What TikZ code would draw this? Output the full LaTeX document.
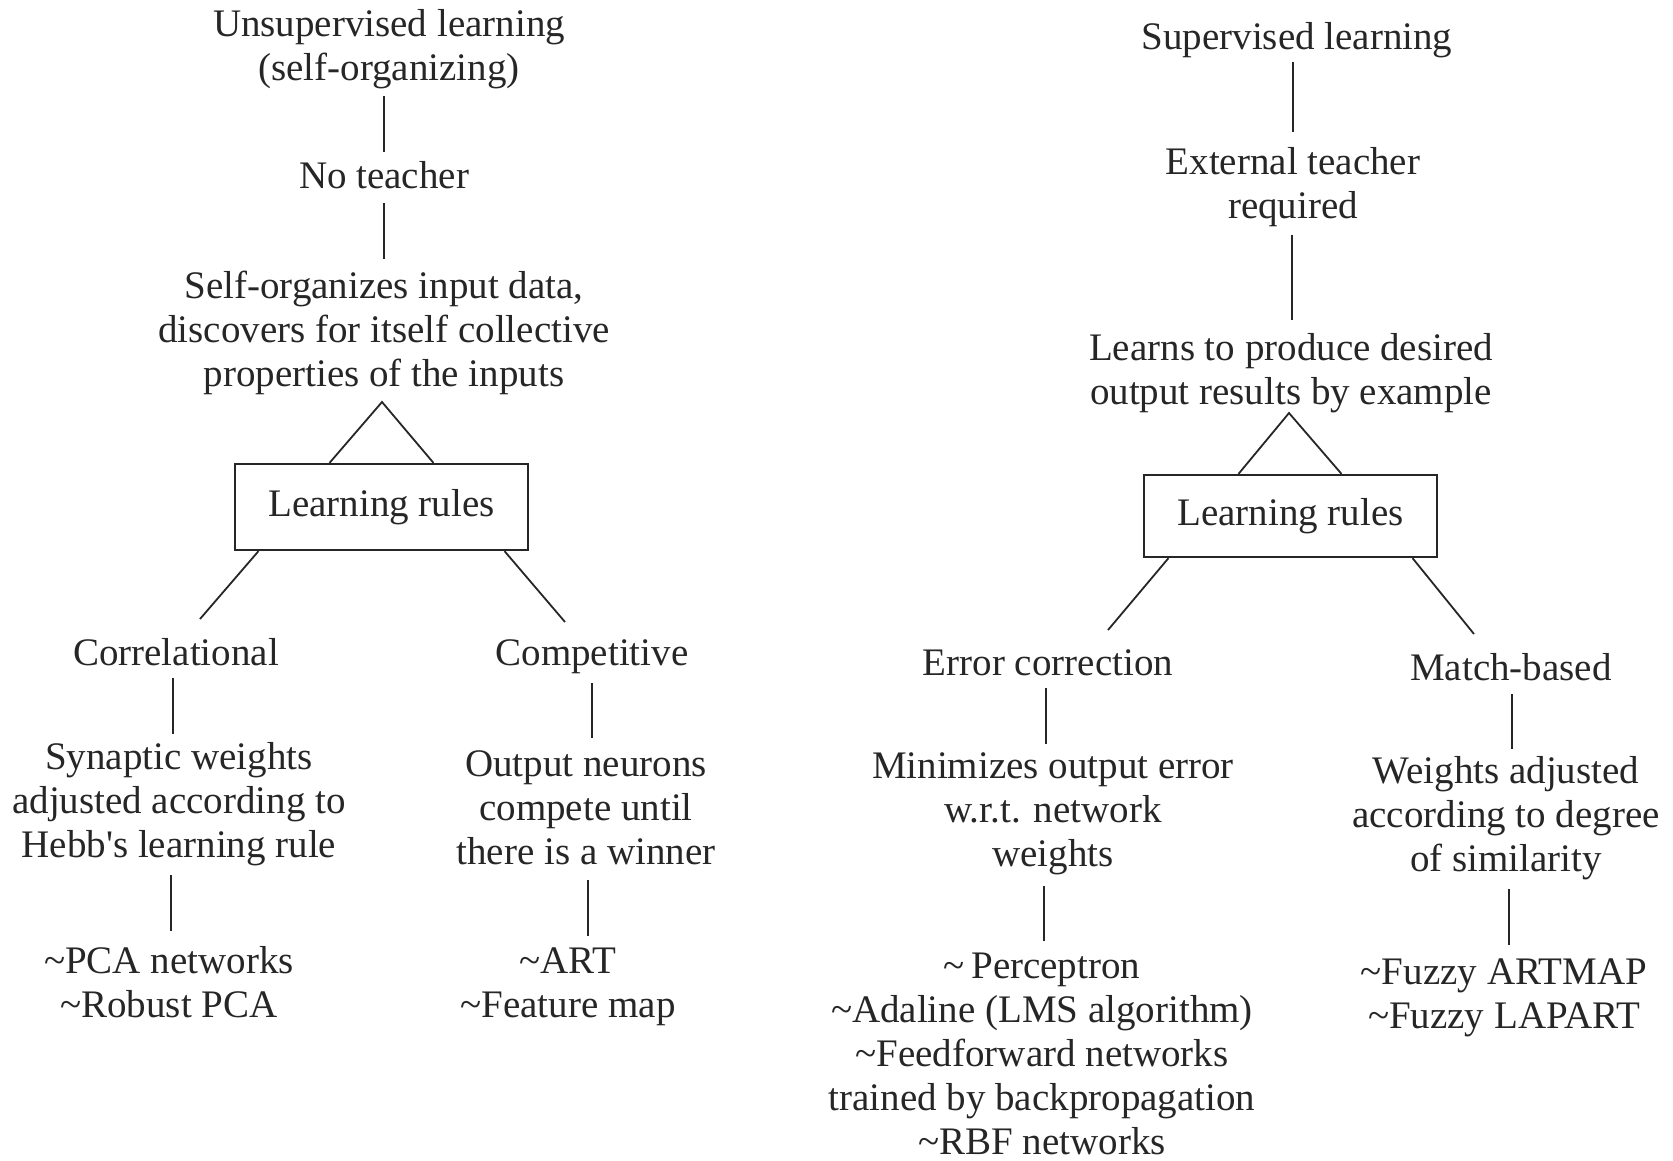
\documentclass[tikz,border=0pt]{standalone}
\usepackage{fontspec}
\setmainfont{Liberation Serif}
\definecolor{ink}{HTML}{262626}
\tikzset{
  txt/.style={align=center, inner sep=0pt, text=ink, font=\fontsize{39}{44}\selectfont},
  rulebox/.style={draw=ink, line width=2.2pt, minimum width=293pt, inner sep=0pt, text=ink, font=\fontsize{39}{44}\selectfont},
  conn/.style={draw=ink, line width=1.8pt}
}
\newcommand{\tl}{\textasciitilde}
\begin{document}
\begin{tikzpicture}[x=1pt,y=1pt]
\useasboundingbox (0,0) rectangle (1673,-1160);
% ---------- left tree ----------
\node[txt] (uns) at (389,-49) {Unsupervised learning\\(self-organizing)};
\node[txt] (noT) at (384,-175) {No teacher};
\node[txt] (self) at (384,-333) {Self-organizes input data,\\discovers for itself collective\\properties of the inputs};
\node[rulebox, minimum height=86pt] (lrL) at (381.5,-507) {Learning rules};
\node[txt] (corr) at (176,-652) {Correlational};
\node[txt] (syn) at (179,-804) {Synaptic weights\\adjusted according to\\Hebb\textquotesingle s learning rule};
\node[txt] (pca) at (169,-982) {\tl PCA networks\\\tl Robust PCA};
\node[txt] (comp) at (592,-657) {Competitive};
\node[txt] (outn) at (586,-808) {Output neurons\\compete until\\there is a winner};
\node[txt] (art) at (568,-987) {\tl ART\\\tl Feature map};

\coordinate (a1) at (384,-96);  \coordinate (a2) at (384,-152);
\coordinate (b1) at (384,-203); \coordinate (b2) at (384,-259);
\coordinate (apL) at (382,-402);
\coordinate (c1) at (200,-619);
\coordinate (d1) at (565,-622);
\coordinate (e1) at (173,-678); \coordinate (e2) at (173,-734);
\coordinate (f1) at (171,-875); \coordinate (f2) at (171,-931);
\coordinate (g1) at (592,-683); \coordinate (g2) at (592,-738);
\coordinate (h1) at (588,-880); \coordinate (h2) at (588,-936);

\draw[conn] (a1) -- (a2);
\draw[conn] (b1) -- (b2);
\draw[conn] ([xshift=-52pt]lrL.north) -- (apL) -- ([xshift=52pt]lrL.north);
\draw[conn] ([xshift=-123pt]lrL.south) -- (c1);
\draw[conn] ([xshift=123pt]lrL.south) -- (d1);
\draw[conn] (e1) -- (e2);
\draw[conn] (f1) -- (f2);
\draw[conn] (g1) -- (g2);
\draw[conn] (h1) -- (h2);

% ---------- right tree ----------
\node[txt] (sup) at (1297,-40) {Supervised learning};
\node[txt] (ext) at (1293,-187) {External teacher\\required};
\node[txt] (lea) at (1291,-373) {Learns to produce desired\\output results by example};
\node[rulebox, minimum height=82pt] (lrR) at (1290.5,-516) {Learning rules};
\node[txt] (err) at (1048,-663) {Error correction};
\node[txt] (mini) at (1053,-814) {Minimizes output error\\w.r.t. network\\weights};
\node[txt] (perc) at (1042,-1054) {\tl\,Perceptron\\\tl Adaline (LMS algorithm)\\\tl Feedforward networks\\trained by backpropagation\\\tl RBF networks};
\node[txt] (mat) at (1511,-667) {Match-based};
\node[txt] (wadj) at (1506,-818) {Weights adjusted\\according to degree\\of similarity};
\node[txt] (fuz) at (1504,-998) {\tl Fuzzy ARTMAP\\\tl Fuzzy LAPART};

\coordinate (i1) at (1293,-62);  \coordinate (i2) at (1293,-132);
\coordinate (j1) at (1292,-235); \coordinate (j2) at (1292,-320);
\coordinate (apR) at (1289,-413);
\coordinate (k1) at (1108,-630);
\coordinate (l1) at (1474,-634);
\coordinate (m1) at (1046,-688); \coordinate (m2) at (1046,-744);
\coordinate (n1) at (1044,-886); \coordinate (n2) at (1044,-941);
\coordinate (o1) at (1512,-694); \coordinate (o2) at (1512,-749);
\coordinate (p1) at (1509,-889); \coordinate (p2) at (1509,-945);

\draw[conn] (i1) -- (i2);
\draw[conn] (j1) -- (j2);
\draw[conn] ([xshift=-52pt]lrR.north) -- (apR) -- ([xshift=51pt]lrR.north);
\draw[conn] ([xshift=-122pt]lrR.south) -- (k1);
\draw[conn] ([xshift=122pt]lrR.south) -- (l1);
\draw[conn] (m1) -- (m2);
\draw[conn] (n1) -- (n2);
\draw[conn] (o1) -- (o2);
\draw[conn] (p1) -- (p2);
\end{tikzpicture}
\end{document}
